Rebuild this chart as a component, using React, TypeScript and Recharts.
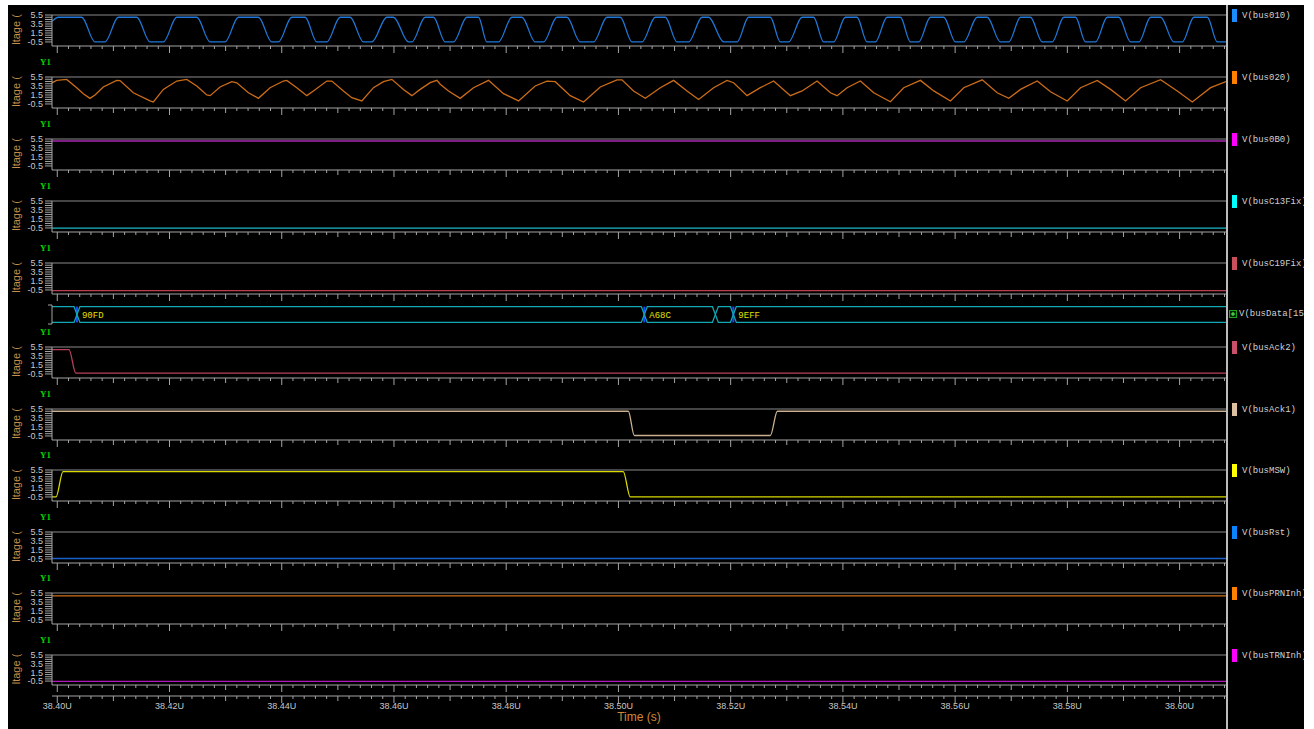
import React from 'react';
import { LineChart, Line, XAxis, YAxis, ReferenceLine, Legend } from 'recharts';

// time is in ns after 38.40 µs (the "38.40U" tick)
const T_START = -0.94;
const T_END = 208.27;
const majorTicks = [0, 20, 40, 60, 80, 100, 120, 140, 160, 180, 200];
const majorLabels = ['38.40U', '38.42U', '38.44U', '38.46U', '38.48U', '38.50U', '38.52U', '38.54U', '38.56U', '38.58U', '38.60U'];
const minorTicks: number[] = [];
for (let t = 0; t <= 208; t += 2) minorTicks.push(t);

const yTicks = [-0.5, 0, 0.5, 1, 1.5, 2, 2.5, 3, 3.5, 4, 4.5, 5, 5.5];
const yLabels = ['-0.5', '1.5', '3.5', '5.5'];

const bus010: [number, number][] = [
  [-0.94, 4.1], [0.18, 5], [4.35, 5], [6.72, -0.5], [8.5, -0.5], [10.88, 5], [14.16, 5], [16.53, -0.5],
  [18.9, -0.5], [21.29, 5], [24.86, 5], [27.23, -0.5], [29.9, -0.5], [32.27, 5], [35.84, 5], [38.23, -0.5],
  [39.4, -0.5], [41.79, 5], [44.17, 5], [46.25, -0.5], [48.03, -0.5], [50.41, 5], [52.19, 5], [54.56, -0.5],
  [56.06, -0.5], [58.73, 5], [59.91, 5], [62.58, -0.5], [63.19, -0.5], [65.56, 5], [67.04, 5], [69.13, -0.5],
  [70.61, -0.5], [72.99, 5], [75.06, 5], [76.56, -0.5], [78.63, -0.5], [81.02, 5], [82.8, 5], [85.17, -0.5],
  [86.65, -0.5], [89.04, 5], [90.82, 5], [93.19, -0.5], [95.57, -0.5], [97.96, 5], [100.33, 5], [102.42, -0.5],
  [104.2, -0.5], [106.57, 5], [108.35, 5], [110.44, -0.5], [112.51, -0.5], [114.9, 5], [116.07, 5], [118.75, -0.5],
  [121.14, -0.5], [123.2, 5], [127.07, 5], [128.85, -0.5], [130.33, -0.5], [132.72, 5], [134.78, 5], [136.57, -0.5],
  [138.35, -0.5], [140.44, 5], [142.52, 5], [144.31, -0.5], [145.79, -0.5], [147.87, 5], [150.25, 5], [152.03, -0.5],
  [153.51, -0.5], [155.6, 5], [157.97, 5], [160.06, -0.5], [161.54, -0.5], [163.93, 5], [165.71, 5], [168.08, -0.5],
  [169.56, -0.5], [171.65, 5], [173.43, 5], [175.52, -0.5], [177.3, -0.5], [179.37, 5], [181.46, 5], [183.24, -0.5],
  [185.02, -0.5], [187.11, 5], [189.18, 5], [191.27, -0.5], [192.75, -0.5], [194.83, 5], [196.62, 5], [198.99, -0.5],
  [200.48, -0.5], [202.55, 5], [204.94, 5], [206.72, -0.5], [208.27, -0.5],
];

const bus020: [number, number][] = [
  [-0.94, 4.2], [-0.11, 4.75], [1.68, 4.97], [3.46, 3.12], [4.64, 1.79], [5.83, 0.75], [6.72, 1.5], [8.2, 3.28],
  [10.59, 4.75], [11.18, 4.7], [13.55, 2.0], [16.53, 0.17], [17.12, -0.06], [18.9, 2.74], [21.29, 4.6], [23.07, 4.97],
  [24.86, 3.5], [26.64, 1.5], [27.23, 1.35], [29.01, 3.28], [31.1, 4.46], [31.99, 4.2], [34.06, 2.0], [35.84, 0.75],
  [37.92, 3.12], [40.3, 4.6], [40.9, 4.75], [42.68, 3.12], [44.47, 1.35], [45.64, 2.4], [48.03, 4.6], [48.93, 4.6],
  [50.99, 2.4], [52.49, 0.9], [54.27, 0.17], [56.34, 3.12], [58.13, 4.46], [59.62, 4.97], [61.69, 2.74], [63.19, 1.35],
  [64.67, 2.74], [66.45, 4.23], [67.65, 4.75], [68.24, 3.9], [69.72, 2.4], [71.8, 0.75], [74.17, 3.12], [76.85, 4.75],
  [79.52, 1.79], [82.2, 0.17], [85.17, 3.5], [87.26, 4.6], [88.74, 4.46], [91.41, 1.35], [93.79, -0.06], [96.76, 3.28],
  [99.74, 4.86], [100.63, 4.86], [102.7, 2.4], [104.79, 0.75], [107.46, 3.12], [109.83, 4.75], [112.22, 2.4], [114.29, 0.5],
  [116.96, 3.12], [119.35, 4.75], [120.53, 4.23], [122.92, 1.35], [125.29, 3.12], [127.66, 4.6], [130.64, 1.35], [132.73, 2.4],
  [135.4, 4.6], [137.77, 2.0], [138.97, 1.35], [140.75, 3.12], [143.12, 4.6], [145.49, 2.0], [148.47, 0.0], [150.84, 3.12],
  [153.82, 4.75], [156.19, 2.4], [159.17, 0.17], [161.54, 3.12], [164.82, 4.86], [167.49, 2.0], [169.56, 0.75], [171.65, 2.74],
  [174.63, 4.6], [177.0, 2.2], [179.98, 0.17], [182.35, 3.12], [185.32, 4.75], [187.7, 2.74], [190.37, 0.17], [193.05, 3.12],
  [196.61, 4.9], [199.59, 2.4], [202.26, -0.06], [205.53, 3.12], [208.27, 4.5],
];

const bus0B0: [number, number][] = [[T_START, 5.05], [T_END, 5.05]];
const busC13Fix: [number, number][] = [[T_START, -0.55], [T_END, -0.55]];
const busC19Fix: [number, number][] = [[T_START, -0.65], [T_END, -0.65]];
const busAck2: [number, number][] = [[T_START, 4.92], [2.09, 4.92], [3.3, -0.3], [T_END, -0.3]];
const busAck1: [number, number][] = [[T_START, 5.0], [101.76, 5.0], [102.83, -0.4], [127.07, -0.4], [128.32, 5.0], [T_END, 5.0]];
const busMSW: [number, number][] = [[T_START, -0.5], [-0.23, -0.5], [1.02, 5.15], [100.86, 5.15], [102.11, -0.5], [T_END, -0.5]];
const busRst: [number, number][] = [[T_START, -0.4], [T_END, -0.4]];
const busPRNInh: [number, number][] = [[T_START, 4.85], [T_END, 4.85]];
const busTRNInh: [number, number][] = [[T_START, -0.55], [T_END, -0.55]];

// busData[15:0] value changes
const busDataT = [3.51, 104.61, 117.27, 120.48];
const busDataLabels = ['90FD', 'A68C', '', '9EFF'];

const W = 1296;
const LEG_W = 78;
const TOP_M = 22;
const GRID = '#8a8a8a';
const AXIS = '#a4a4a4';
const TXT = '#c8c8c8';

type Sig = { name: string; data: [number, number][]; line: string; swatch: string; top: number; curve: 'monotone' | 'linear' };

const signals: Sig[] = [
  { name: 'V(bus010)', data: bus010, line: '#1f78d8', swatch: '#1a8cff', top: 15, curve: 'monotone' },
  { name: 'V(bus020)', data: bus020, line: '#cc6c18', swatch: '#ff8000', top: 77, curve: 'linear' },
  { name: 'V(bus0B0)', data: bus0B0, line: '#a828b0', swatch: '#ff00ff', top: 139, curve: 'linear' },
  { name: 'V(busC13Fix)', data: busC13Fix, line: '#1cb8c8', swatch: '#00ffff', top: 201, curve: 'linear' },
  { name: 'V(busC19Fix)', data: busC19Fix, line: '#b84050', swatch: '#c8505a', top: 263, curve: 'linear' },
  { name: 'V(busAck2)', data: busAck2, line: '#b8405a', swatch: '#c8506a', top: 347, curve: 'monotone' },
  { name: 'V(busAck1)', data: busAck1, line: '#c8b090', swatch: '#dcc0a0', top: 409, curve: 'monotone' },
  { name: 'V(busMSW)', data: busMSW, line: '#d8d800', swatch: '#ffff00', top: 470, curve: 'monotone' },
  { name: 'V(busRst)', data: busRst, line: '#1860c8', swatch: '#0a84ff', top: 532, curve: 'linear' },
  { name: 'V(busPRNInh)', data: busPRNInh, line: '#d07018', swatch: '#ff8000', top: 593, curve: 'linear' },
  { name: 'V(busTRNInh)', data: busTRNInh, line: '#b018b8', swatch: '#ff00ff', top: 655, curve: 'linear' },
];

function TimeTick(props: any) {
  const { x, y, payload, labelled } = props;
  const v = Math.round(payload.value);
  const len = v % 20 === 0 ? 7 : v % 10 === 0 ? 5 : 3;
  const idx = majorTicks.indexOf(v);
  return (
    <g>
      <line x1={x} y1={y} x2={x} y2={y + len} stroke={AXIS} strokeWidth={1} />
      {labelled && idx >= 0 && (
        <text x={x} y={y + 13} textAnchor="middle" fill={TXT} fontSize={9} fontFamily="Liberation Sans, Arial">
          {majorLabels[idx]}
        </text>
      )}
    </g>
  );
}

const sideLabel = (props: any) => {
  const vb = props.viewBox || {};
  const x0 = vb.x ?? 0;
  const y0 = vb.y ?? TOP_M;
  const h = vb.height ?? 31;
  const cx = x0 + 7.5;
  const cy = y0 + h / 2 - 1;
  return (
    <g>
      <text x={cx} y={cy} transform={`rotate(-90 ${cx} ${cy})`} textAnchor="middle" dominantBaseline="central" fill="#c8904c" fontSize={11} fontFamily="Liberation Sans, Arial">
        ltage (
      </text>
      <text x={x0 + 32} y={y0 - 12.5} fill="#00d000" fontSize={9} fontWeight="bold" fontFamily="Liberation Serif, serif">
        Y1
      </text>
    </g>
  );
};

const timeLabel = (props: any) => {
  const vb = props.viewBox || {};
  return (
    <text x={(vb.x ?? 44) + (vb.width ?? 1174) / 2} y={(vb.y ?? 63) + 25} textAnchor="middle" fill="#d08838" fontSize={12} fontFamily="Liberation Sans, Arial">
      Time (s)
    </text>
  );
};

function LegendEntry({ color, name }: { color: string; name: string }) {
  return (
    <div style={{ display: 'flex', alignItems: 'center', height: 13, paddingLeft: 6, whiteSpace: 'nowrap' }}>
      <span style={{ display: 'inline-block', width: 5, height: 13, background: color, marginRight: 5, flex: 'none' }} />
      <span style={{ fontFamily: 'Liberation Mono, monospace', fontSize: 9, color: '#d0d0d0' }}>{name}</span>
    </div>
  );
}

function Panel({ sig, last }: { sig: Sig; last?: boolean }) {
  const plotH = last ? 30 : 31;
  const axisH = last ? 11 : 9;
  const h = TOP_M + plotH + axisH + (last ? 33 : 0);
  const pts = sig.data.map(([t, v]) => ({ t, v }));
  return (
    <div style={{ position: 'absolute', left: 0, top: sig.top - TOP_M - 5 }}>
      <LineChart width={W} height={h} margin={{ top: TOP_M, right: 0, bottom: 0, left: 0 }}>
        <XAxis xAxisId="a" type="number" dataKey="t" domain={[T_START, T_END]} allowDataOverflow ticks={minorTicks} interval={0}
          tick={<TimeTick />} tickLine={false} tickSize={0} tickMargin={0} height={axisH} axisLine={{ stroke: AXIS }} />
        {last && (
          <XAxis xAxisId="b" type="number" dataKey="t" domain={[T_START, T_END]} allowDataOverflow ticks={minorTicks} interval={0}
            tick={<TimeTick labelled />} tickLine={false} tickSize={0} tickMargin={0} height={33} axisLine={{ stroke: AXIS }}
            label={timeLabel} />
        )}
        <YAxis type="number" domain={[-1.4, 5.5]} allowDataOverflow ticks={yTicks} interval={0} width={44}
          tickSize={7} tickMargin={2} tickLine={{ stroke: AXIS }} axisLine={{ stroke: AXIS }}
          tickFormatter={(v: number) => (yLabels.includes(String(v)) ? String(v) : '')}
          tick={{ fill: TXT, fontSize: 9, fontFamily: 'Liberation Sans, Arial' }} label={sideLabel} />
        <ReferenceLine xAxisId="a" y={5.5} stroke={GRID} strokeWidth={1} />
        <Line xAxisId="a" data={pts} dataKey="v" name={sig.name} type={sig.curve} stroke={sig.line} strokeWidth={1.3}
          dot={false} activeDot={false} isAnimationActive={false} />
        <Legend layout="vertical" align="right" verticalAlign="top"
          wrapperStyle={{ top: TOP_M - 6, right: 0, width: LEG_W, overflow: 'hidden' }}
          content={() => <LegendEntry color={sig.swatch} name={sig.name} />} />
      </LineChart>
    </div>
  );
}

function BusPanel() {
  const d = 0.53;
  const railA: { t: number; v: number }[] = [{ t: T_START, v: 1 }];
  const railB: { t: number; v: number }[] = [{ t: T_START, v: 0 }];
  let a = 1;
  busDataT.forEach((t) => {
    railA.push({ t: t - d, v: a }, { t: t + d, v: 1 - a });
    railB.push({ t: t - d, v: 1 - a }, { t: t + d, v: a });
    a = 1 - a;
  });
  railA.push({ t: T_END, v: a });
  railB.push({ t: T_END, v: 1 - a });
  return (
    <div style={{ position: 'absolute', left: 0, top: 297 - 5 }}>
      <LineChart width={W} height={35} margin={{ top: 8, right: 0, bottom: 8, left: 0 }}>
        <XAxis type="number" dataKey="t" domain={[T_START, T_END]} allowDataOverflow hide />
        <YAxis type="number" domain={[-0.1, 1.1]} allowDataOverflow ticks={[-0.1, 1.1]} interval={0} width={44}
          tickSize={4} tickMargin={0} tickFormatter={() => ''} tickLine={{ stroke: AXIS }} axisLine={{ stroke: AXIS }} />
        {busDataT.map((t, i) =>
          busDataLabels[i] ? (
            <ReferenceLine key={t} segment={[{ x: t, y: 0 }, { x: t, y: 1 }]} stroke="#1848ff" strokeWidth={2}
              label={{ value: busDataLabels[i], position: 'right', offset: 5, fill: '#e0e000', fontSize: 9, fontFamily: 'Liberation Mono, monospace' }} />
          ) : null
        )}
        <Line data={railA} dataKey="v" name="railA" type="linear" stroke="#12a8b4" strokeWidth={1.3} dot={false} activeDot={false} isAnimationActive={false} />
        <Line data={railB} dataKey="v" name="railB" type="linear" stroke="#12a8b4" strokeWidth={1.3} dot={false} activeDot={false} isAnimationActive={false} />
        <Legend layout="vertical" align="right" verticalAlign="top"
          wrapperStyle={{ top: 10, right: 0, width: LEG_W, overflow: 'hidden' }}
          content={() => (
            <div style={{ display: 'flex', alignItems: 'center', height: 13, paddingLeft: 3, whiteSpace: 'nowrap' }}>
              <svg width={8} height={8} style={{ marginRight: 2, flex: 'none' }}>
                <rect x={0.5} y={0.5} width={7} height={7} fill="#002800" stroke="#20a020" />
                <path d="M2 4H6M4 2V6" stroke="#60ff60" />
              </svg>
              <span style={{ fontFamily: 'Liberation Mono, monospace', fontSize: 9, color: '#d0d0d0' }}>V(busData[15:0])</span>
            </div>
          )} />
      </LineChart>
    </div>
  );
}

export default function App() {
  return (
    <div style={{ position: 'absolute', left: 8, top: 5, width: W, height: 724, background: '#000', overflow: 'hidden' }}>
      {signals.slice(0, 5).map((s) => <Panel key={s.name} sig={s} />)}
      <BusPanel />
      {signals.slice(5).map((s, i, arr) => <Panel key={s.name} sig={s} last={i === arr.length - 1} />)}
      <div style={{ position: 'absolute', left: 1218, top: 0, width: 2, height: 724, background: '#bcbcbc' }} />
    </div>
  );
}
